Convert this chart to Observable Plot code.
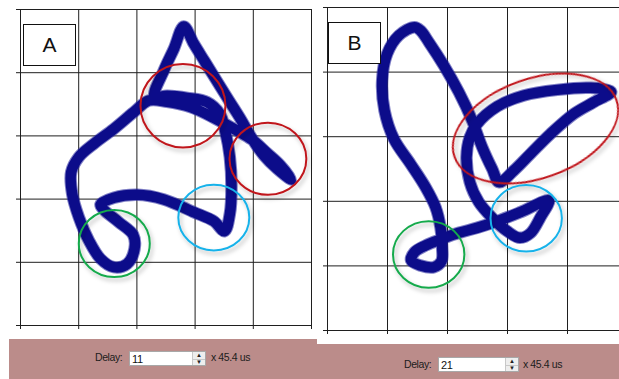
<!DOCTYPE html>
<html>
<head>
<meta charset="utf-8">
<script src="https://cdn.jsdelivr.net/npm/d3@7"></script>
<script src="https://cdn.jsdelivr.net/npm/@observablehq/plot@0.6"></script>
<style>
  html, body { margin: 0; padding: 0; background: #fff; overflow: hidden; }
  body { width: 619px; height: 379px; position: relative; font-family: "Liberation Sans", Arial, sans-serif; }
  .panel { position: absolute; top: 0; }
  .panel svg { max-width: none; display: block; }
  .tag { position: absolute; border: 1px solid #111; background: #fff; color: #111;
         font-size: 21px; display: flex; align-items: center; justify-content: center; box-sizing: border-box; }
  .bar { position: absolute; background: #bb8c8a; }
  .lbl { position: absolute; font-size: 10.5px; letter-spacing: -0.4px; color: #1c1c1c; line-height: 12px; white-space: nowrap; }
  .box { position: absolute; background: #fff; border: 1px solid #a8a8a8; box-sizing: border-box; }
  .box span { position: absolute; left: 2px; top: 1px; font-size: 11px; line-height: 12px; color: #111; letter-spacing: -0.3px; }
  .spin { position: absolute; right: 0; top: 0; bottom: 0; width: 12px; background: #eeeeee; border-left: 1px solid #c8c8c8; }
  .spin i { position: absolute; left: 0; right: 0; height: 50%; font-style: normal; font-size: 6px; line-height: 6px; text-align: center; color: #222; }
  .spin i.up { top: 0; border-bottom: 1px solid #c8c8c8; }
  .spin i.dn { bottom: 0; }
</style>
</head>
<body>
<div id="panelA" class="panel" style="left:0px;width:330px"></div>
<div id="panelB" class="panel" style="left:300px;width:340px"></div>

<div class="tag" style="left:23px;top:24px;width:53px;height:42px">A</div>
<div class="tag" style="left:328px;top:22px;width:53px;height:42px">B</div>

<div class="bar" style="left:9px;top:339px;width:308px;height:40px"></div>
<div class="bar" style="left:317px;top:344px;width:302px;height:35px"></div>

<div class="lbl" style="left:95px;top:351px">Delay:</div>
<div class="box" style="left:129px;top:351px;width:77px;height:15px"><span id="delayA"></span>
  <div class="spin"><i class="up">▲</i><i class="dn">▼</i></div></div>
<div class="lbl" style="left:211px;top:351px" id="unitA"></div>

<div class="lbl" style="left:404px;top:358px">Delay:</div>
<div class="box" style="left:438px;top:357px;width:81px;height:15px"><span id="delayB"></span>
  <div class="spin"><i class="up">▲</i><i class="dn">▼</i></div></div>
<div class="lbl" style="left:523px;top:358px" id="unitB"></div>

<script>
// Grid divisions shared by both phase plots
const gridTicks = [0, 1, 2, 3, 4, 5];

// Embedding delays (samples) and sampling period
const delays = [11, 21];
const samplePeriod = "x 45.4 us";

// Reconstructed attractor, delay = 11 samples: [x(t), x(t - τ)]
const trajectoryA = [
  [2.806, 4.731], [2.978, 4.457], [3.162, 4.183], [3.368, 3.877], [3.574, 3.571],
  [3.769, 3.286], [3.963, 2.980], [4.181, 2.690], [4.410, 2.479], [4.651, 2.310],
  [4.467, 2.532], [4.238, 2.727], [3.981, 2.938], [3.666, 3.112], [3.322, 3.286],
  [2.921, 3.455], [2.520, 3.539], [2.205, 3.560], [1.947, 3.376], [1.604, 3.112],
  [1.260, 2.874], [1.002, 2.664], [0.871, 2.426], [0.888, 2.083], [1.002, 1.714],
  [1.174, 1.345], [1.375, 1.055], [1.604, 0.923], [1.833, 0.976], [1.959, 1.213],
  [1.936, 1.435], [1.690, 1.635], [1.432, 1.830], [1.375, 1.915], [1.604, 2.020],
  [2.005, 2.068], [2.463, 1.994], [2.978, 1.793], [3.322, 1.651], [3.505, 1.493],
  [3.597, 1.767], [3.625, 2.189], [3.597, 2.664], [3.522, 3.059], [3.425, 3.349],
  [3.207, 3.534], [2.864, 3.602], [2.520, 3.634], [2.302, 3.623], [2.463, 4.035],
  [2.635, 4.378]
];

// Reconstructed attractor, delay = 21 samples
const trajectoryB = [
  [1.450, 4.696], [1.189, 4.567], [0.994, 4.283], [0.911, 3.870], [0.950, 3.406],
  [1.106, 2.967], [1.383, 2.580], [1.633, 2.219], [1.800, 1.909], [1.883, 1.600],
  [1.911, 1.290], [1.900, 1.073], [1.772, 0.980], [1.550, 1.006], [1.394, 1.084],
  [1.450, 1.213], [1.633, 1.316], [1.911, 1.419], [2.189, 1.512], [2.494, 1.589],
  [2.828, 1.692], [3.217, 1.832], [3.689, 2.012], [3.550, 1.754], [3.383, 1.507],
  [3.206, 1.434], [2.994, 1.538], [2.744, 1.745], [2.522, 1.987], [2.372, 2.296],
  [2.317, 2.683], [2.372, 2.993], [2.494, 3.199], [2.828, 3.467], [3.272, 3.638],
  [3.828, 3.725], [4.383, 3.756], [4.728, 3.695], [4.439, 3.535], [4.106, 3.354],
  [3.717, 3.044], [3.383, 2.735], [3.106, 2.477], [2.861, 2.296], [2.744, 2.503],
  [2.578, 2.838], [2.411, 3.251], [2.189, 3.689], [1.939, 4.102], [1.689, 4.463],
  [1.550, 4.644]
];

// Highlighted features: centre, half-extent along each axis, tilt (deg), feature kind
const featuresA = [
  {x: 2.80, y: 3.47, rx: 0.73, ry: 0.66, tilt: 0, kind: "fold"},
  {x: 4.26, y: 2.63, rx: 0.66, ry: 0.57, tilt: 0, kind: "fold"},
  {x: 3.33, y: 1.70, rx: 0.61, ry: 0.52, tilt: 0, kind: "corner"},
  {x: 1.62, y: 1.29, rx: 0.61, ry: 0.53, tilt: 0, kind: "loop"}
];
const featuresB = [
  {x: 3.475, y: 3.12, rx: 1.43, ry: 0.77, tilt: 19.4, kind: "fold"},
  {x: 3.32, y: 1.73, rx: 0.595, ry: 0.515, tilt: 0, kind: "corner"},
  {x: 1.695, y: 1.17, rx: 0.595, ry: 0.515, tilt: 0, kind: "loop"}
];

const ringColor = {fold: "#c0151b", corner: "#18b2ea", loop: "#14aa4c"};

// Outlined ellipses placed through the plot's x/y scales
function rings(data, id) {
  return Plot.dot(data, {
    x: "x", y: "y",
    render(index, scales) {
      const g = d3.create("svg:g");
      const f = g.append("defs").append("filter").attr("id", id)
        .attr("x", "-20%").attr("y", "-20%").attr("width", "150%").attr("height", "150%");
      f.append("feDropShadow").attr("dx", 2).attr("dy", 3).attr("stdDeviation", 2)
        .attr("flood-color", "#000").attr("flood-opacity", 0.28);
      for (const i of index) {
        const d = data[i];
        const cx = scales.x(d.x), cy = scales.y(d.y);
        const rx = Math.abs(scales.x(d.x + d.rx) - cx);
        const ry = Math.abs(scales.y(d.y + d.ry) - cy);
        g.append("ellipse")
          .attr("cx", cx).attr("cy", cy).attr("rx", rx).attr("ry", ry)
          .attr("transform", `rotate(${-d.tilt} ${cx} ${cy})`)
          .attr("fill", "none").attr("stroke", ringColor[d.kind]).attr("stroke-width", 2)
          .attr("filter", `url(#${id})`);
      }
      return g.node();
    }
  });
}

function phasePlot(trajectory, features, id, dims) {
  return Plot.plot({
    ...dims,
    x: {domain: [0, 5], label: null},
    y: {domain: [0, 5], label: null},
    style: {background: "none", overflow: "visible"},
    marks: [
      Plot.gridX(gridTicks, {stroke: "#1f1f1f", strokeOpacity: 1, strokeWidth: 1}),
      Plot.gridY(gridTicks, {stroke: "#1f1f1f", strokeOpacity: 1, strokeWidth: 1}),
      Plot.axisX(gridTicks, {tickSize: 4, tickFormat: () => "", stroke: "#1f1f1f", label: null}),
      Plot.axisY(gridTicks, {tickSize: 4, tickFormat: () => "", stroke: "#1f1f1f", label: null}),
      // bundle of overlapping cycles: faint outer strands, then dense core
      Plot.line(trajectory, {x: d => d[0], y: d => d[1], curve: "catmull-rom-closed",
        stroke: "#2c2ca0", strokeOpacity: 0.6, strokeWidth: 12.5}),
      Plot.line(trajectory, {x: d => d[0], y: d => d[1], curve: "catmull-rom-closed",
        stroke: "#0c0c8a", strokeWidth: 10.5}),
      rings(features, id)
    ]
  });
}

document.getElementById("panelA").append(
  phasePlot(trajectoryA, featuresA, "ringShadowA",
    {width: 330, height: 340, marginLeft: 20, marginRight: 19, marginTop: 9, marginBottom: 15}));
document.getElementById("panelB").append(
  phasePlot(trajectoryB, featuresB, "ringShadowB",
    {width: 340, height: 345, marginLeft: 27, marginRight: 13, marginTop: 7, marginBottom: 15}));

document.getElementById("delayA").textContent = delays[0];
document.getElementById("delayB").textContent = delays[1];
document.getElementById("unitA").textContent = samplePeriod;
document.getElementById("unitB").textContent = samplePeriod;
</script>
</body>
</html>
